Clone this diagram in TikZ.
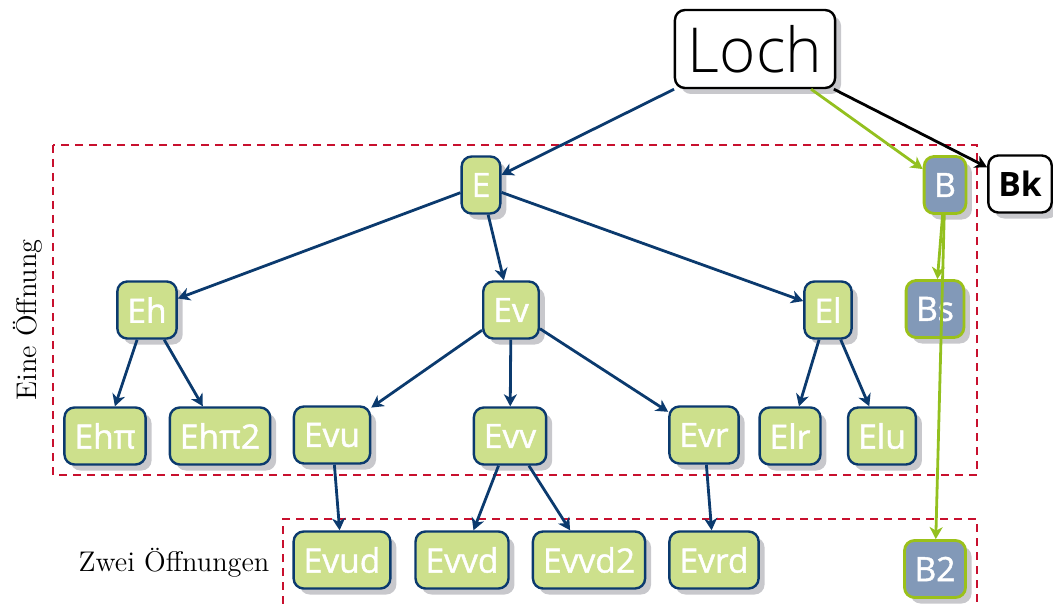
\documentclass[tikz,border=0pt]{standalone}
\usepackage{fontspec}
\newfontfamily\nodefont[FakeBold=1.3]{Open Sans}
\newfontfamily\boldnodefont{Open Sans Bold}
\newfontfamily\lochfont{Open Sans Light}
\usetikzlibrary{shadows,arrows.meta}
\definecolor{egreen}{HTML}{CDE08C}
\definecolor{eblue}{HTML}{0B3A6E}
\definecolor{bblue}{HTML}{8299B8}
\definecolor{bgreen}{HTML}{9BC11A}
\definecolor{garrow}{HTML}{93C01F}
\definecolor{reddash}{HTML}{C8102E}
\definecolor{shadowgray}{HTML}{C8C8CC}
\tikzset{
  base/.style={rounded corners=5pt, line width=1.2pt, minimum height=28.5pt,
    inner xsep=5pt, inner ysep=0pt, font=\nodefont\fontsize{16.8}{20}\selectfont,
    drop shadow={shadow xshift=3pt, shadow yshift=-3pt, fill=shadowgray, opacity=1}},
  enode/.style={base, draw=eblue, fill=egreen, text=white},
  bnode/.style={base, draw=bgreen, fill=bblue, text=white, line width=1.4pt},
  wnode/.style={base, draw=black, fill=white, text=black},
  tip/.style={-{Stealth[length=6pt,width=6.5pt,inset=1.8pt]}},
  earrow/.style={tip, draw=eblue, line width=1.4pt},
  garrowst/.style={tip, draw=garrow, line width=1.4pt},
  karrow/.style={tip, draw=black, line width=1.4pt},
  region/.style={draw=reddash, line width=1.2pt, dash pattern=on 4pt off 3pt},
  lbl/.style={font=\fontsize{14.2}{16}\selectfont, text=black}
}
\begin{document}
\begin{tikzpicture}[x=0.5pt,y=-0.5pt]
\useasboundingbox (0,0) rectangle (1053,604);
% regions
\draw[region] (53,145) rectangle (977,475);
\draw[region] (283,604) -- (283,519) -- (977,519) -- (977,604);
\node[lbl, rotate=90] (l1) at (28,320) {Eine Öffnung};
\node[lbl] (l2) at (174,563) {Zwei Öffnungen};
% nodes
\node[wnode, font=\lochfont\fontsize{31}{36}\selectfont, minimum height=39pt, inner xsep=6.5pt] (Loch) at (755,49) {Loch};
\node[bnode] (B) at (945,185) {B};
\node[wnode, font=\boldnodefont\fontsize{16.8}{20}\selectfont] (Bk) at (1020,184) {Bk};
\node[enode] (E) at (481,185) {E};
\node[enode] (Eh) at (147,310) {Eh};
\node[enode] (Ev) at (511,310) {Ev};
\node[enode] (El) at (828,310) {El};
\node[bnode] (Bs) at (935,309) {Bs};
\node[enode] (Ehp) at (105,436) {Ehπ};
\node[enode] (Ehp2) at (220,436) {Ehπ2};
\node[enode] (Evu) at (332,435) {Evu};
\node[enode] (Evv) at (510,436) {Evv};
\node[enode] (Evr) at (704,435) {Evr};
\node[enode] (Elr) at (790,436) {Elr};
\node[enode] (Elu) at (882,436) {Elu};
\node[enode] (Evud) at (342,560) {Evud};
\node[enode] (Evvd) at (462,560) {Evvd};
\node[enode] (Evvd2) at (589,560) {Evvd2};
\node[enode] (Evrd) at (714,560) {Evrd};
\node[bnode] (B2) at (935,569) {B2};
% edges
\draw[earrow] (Loch) -- (E);
\draw[garrowst] (Loch) -- (B);
\draw[karrow] (Loch) -- (Bk);
\draw[earrow] (E) -- (Eh);
\draw[earrow] (E) -- (Ev);
\draw[earrow] (E) -- (El);
\draw[earrow] (Eh) -- (Ehp);
\draw[earrow] (Eh) -- (Ehp2);
\draw[earrow] (Ev) -- (Evu);
\draw[earrow] (Ev) -- (Evv);
\draw[earrow] (Ev) -- (Evr);
\draw[earrow] (El) -- (Elr);
\draw[earrow] (El) -- (Elu);
\draw[earrow] (Evu) -- (Evud);
\draw[earrow] (Evv) -- (Evvd);
\draw[earrow] (Evv) -- (Evvd2);
\draw[earrow] (Evr) -- (Evrd);
\draw[garrowst] (B) -- (Bs);
\draw[garrowst] (B) -- (B2);
\end{tikzpicture}
\end{document}
